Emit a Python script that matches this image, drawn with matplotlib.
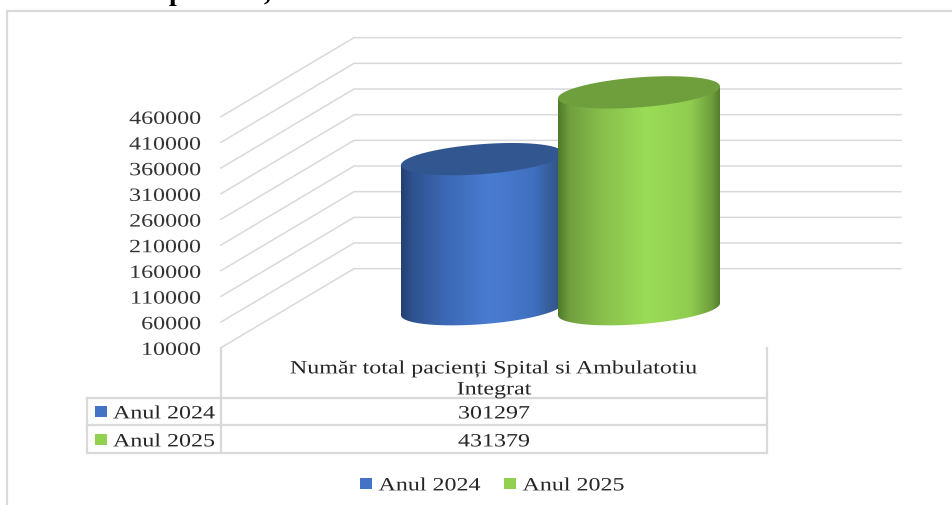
import matplotlib.pyplot as plt
import numpy as np
from matplotlib.colors import LinearSegmentedColormap
from matplotlib.patches import Polygon, Rectangle
from matplotlib.patheffects import AbstractPathEffect
from matplotlib.transforms import Affine2D

plt.rcParams['font.family'] = ['Liberation Serif', 'DejaVu Serif']

years = ['Anul 2024', 'Anul 2025']
patients = [301297, 431379]
tick_values = [10000, 60000, 110000, 160000, 210000, 260000, 310000, 360000,
               410000, 460000]
header_lines = ['Număr total pacienți Spital si Ambulatotiu', 'Integrat']
swatch_colors = ['#4472c4', '#92d050']
top_colors = ['#32568f', '#6f9f3d']
body_stops = [0, 0.07, 0.27, 0.55, 0.82, 0.95, 1]
body_colors = [['#23406f', '#2f5290', '#3c68b4', '#4a7cd2', '#4070c0', '#34598f', '#2c4f88'],
               ['#4f7a2a', '#719f3f', '#88bf4c', '#9bdc57', '#90cc50', '#6f9f3d', '#567f2c']]

W, H = 953, 506
GRID = '#d9d9d9'
TEXT = '#262626'
# Pixels per axis unit and the position of the 10000 line on the front plane.
Y_SCALE = 25.67 / 50000
Y_BASE = 348
DEPTH_X, DEPTH_Y = 133, 79
CYL_X = [482, 639]
CYL_A = 81
CYL_B = 15
CYL_SHEAR = 6
# The reference text is squeezed wide, about 1.28 times its normal width.
TEXT_WIDEN = 1.28
TEXT_SIZE = 13.5
TEXT_DY = 2.2

fig = plt.figure(figsize=(W / 100, H / 100), dpi=100)

# Pixel axes for the frame, table and legend.
ax = fig.add_axes([0, 0, 1, 1])
ax.axis('off')


class Widen(AbstractPathEffect):
    """Stretches a text sideways around the pixel column x0."""

    def __init__(self, x0, factor):
        super().__init__()
        self.x0 = x0
        self.factor = factor

    def draw_path(self, renderer, gc, tpath, affine, rgbFace=None):
        stretch = (Affine2D().translate(-self.x0, 0).scale(self.factor, 1)
                   .translate(self.x0, 0))
        renderer.draw_path(gc, tpath, affine + stretch, rgbFace)


def put_text(x, y, s, ha='left', color=TEXT, size=TEXT_SIZE, **kw):
    ax.text(x, y + TEXT_DY, s, fontsize=size, ha=ha, va='center', color=color,
            path_effects=[Widen(x, TEXT_WIDEN)], zorder=6, **kw)


def val_to_px(v):
    return Y_BASE - (np.asarray(v) - tick_values[0]) * Y_SCALE


def draw_cylinder(x_mid, value, colors, top_color, z):
    top = val_to_px(value) - DEPTH_Y / 2 + 0.5
    base = val_to_px(tick_values[0]) - DEPTH_Y / 2 + 1
    t = np.linspace(0, np.pi, 80)
    # Lower half of the base ellipse, then up the sides to the top ellipse.
    low_x = x_mid + CYL_A * np.cos(t)
    low_y = base + CYL_B * np.sin(t) - CYL_SHEAR * np.cos(t)
    body_x = np.r_[low_x, low_x[-1], low_x[0]]
    body_y = np.r_[low_y, top + CYL_SHEAR, top - CYL_SHEAR]
    body = Polygon(np.c_[body_x, body_y], closed=True, fc='none', ec='none',
                   transform=ax.transData, zorder=z)
    ax.add_patch(body)
    cmap = LinearSegmentedColormap.from_list('cyl', list(zip(body_stops, colors)))
    img = ax.imshow(np.linspace(0, 1, 256)[None, :], cmap=cmap, aspect='auto',
                    extent=(x_mid - CYL_A, x_mid + CYL_A, base + 25, top - 25),
                    interpolation='bilinear', zorder=z)
    img.set_clip_path(body)
    t = np.linspace(0, 2 * np.pi, 160)
    ax.fill(x_mid + CYL_A * np.cos(t),
            top + CYL_B * np.sin(t) - CYL_SHEAR * np.cos(t),
            color=top_color, lw=0, zorder=z + 0.5)


# Outer chart frame, only partly inside the picture.
ax.plot([7, 7, W + 5], [H + 5, 11, 11], color=GRID, lw=1.6, zorder=1)

# Cut-off bold title above the frame.
ax.text(176, -1, 'p', fontsize=20, fontweight='bold', ha='center',
        va='baseline', color='black')
ax.text(267, -1, ',', fontsize=20, fontweight='bold', ha='center',
        va='baseline', color='black')

# Gridlines on the side and back walls, with the axis labels.
for v in tick_values:
    y = val_to_px(v)
    ax.plot([221, 221 + DEPTH_X, 901], [y, y - DEPTH_Y, y - DEPTH_Y],
            color=GRID, lw=1.1, zorder=1)
    put_text(201, y + 0.5, str(v), ha='right', color='#333333')

for i in range(len(patients)):
    draw_cylinder(CYL_X[i], patients[i], body_colors[i], top_colors[i], 3 + i)

# Data table under the chart.
ax.plot([221, 221], [348, 453], color=GRID, lw=1.6, zorder=2)
ax.plot([767, 767], [348, 453], color=GRID, lw=1.6, zorder=2)
ax.plot([87.5, 87.5], [398, 453], color=GRID, lw=1.6, zorder=2)
for y in [398, 425.5, 453]:
    ax.plot([87.5, 767], [y, y], color=GRID, lw=1.6, zorder=2)

put_text(494, 367, header_lines[0], ha='center')
put_text(494, 388, header_lines[1], ha='center')

table_y = [412, 440]
for i in range(len(years)):
    ax.add_patch(Rectangle((95, table_y[i] - 6), 12, 11, fc=swatch_colors[i],
                           ec='none', zorder=3))
    put_text(113, table_y[i], years[i])
    put_text(494, table_y[i], str(patients[i]), ha='center')

# Legend at the bottom.
legend_x = [360, 504]
for i in range(len(years)):
    ax.add_patch(Rectangle((legend_x[i], 478), 12, 11, fc=swatch_colors[i],
                           ec='none', zorder=3))
    put_text(legend_x[i] + 18.5, 484, years[i])

# Half a pixel or so down, so lines land on the reference's rows.
ax.set_xlim(0, W)
ax.set_ylim(H - 0.7, -0.7)
fig.savefig('out.png', dpi=100)
